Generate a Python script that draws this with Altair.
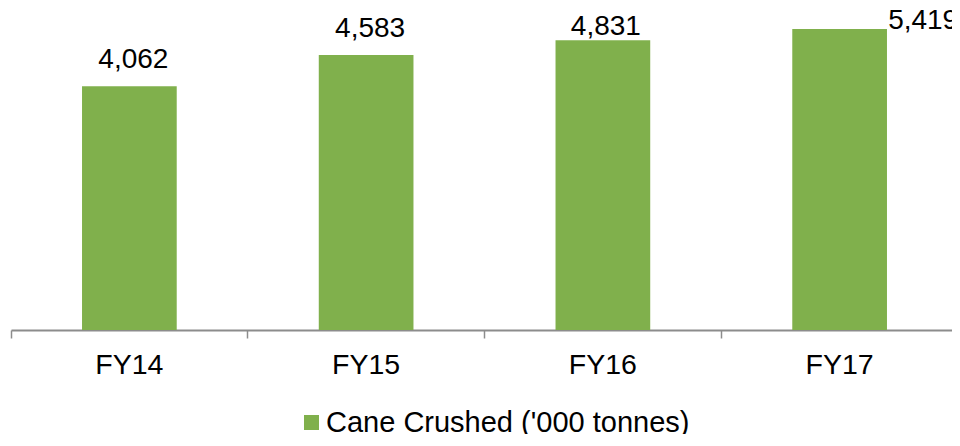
import altair as alt
import pandas as pd

years = ["FY14", "FY15", "FY16", "FY17"]
cane_crushed = [4062, 4583, 4831, 5419]
series_name = "Cane Crushed ('000 tonnes)"

df = pd.DataFrame({"year": years, "value": cane_crushed, "series": [series_name] * len(years)})

FONT = "Liberation Sans"
GREEN = "#80b04c"
PLOT_W = 947

x_enc = alt.X(
    "year:N",
    sort=years,
    scale=alt.Scale(paddingInner=0, paddingOuter=0),
    axis=alt.Axis(
        title=None,
        labelAngle=0,
        bandPosition=1,
        tickExtra=True,
        labelPadding=12,
        labelFontSize=28.5,
        labelFont=FONT,
        labelColor="#000000",
        domainColor="#8c8c8c",
        domainWidth=2,
        tickColor="#8c8c8c",
        tickWidth=1.5,
        tickSize=8,
        grid=False,
    ),
)
y_enc = alt.Y(
    "value:Q",
    scale=alt.Scale(domain=[0, 5017], clamp=True, nice=False),
    axis=None,
)

base = alt.Chart(df)

bars = base.mark_bar(width=alt.RelativeBandSize(0.4)).encode(
    x=x_enc,
    y=y_enc,
    color=alt.Color(
        "series:N",
        scale=alt.Scale(range=[GREEN]),
        legend=alt.Legend(
            title=None,
            orient="none",
            legendX=286,
            legendY=379,
            symbolType="square",
            symbolSize=225,
            symbolStrokeWidth=0,
            labelFontSize=29,
            labelFont=FONT,
            labelColor="#000000",
            labelOffset=0,
            padding=0,
            labelLimit=600,
        ),
    ),
)

text_common = dict(font=FONT, fontSize=28, color="#000000", baseline="alphabetic")

labels_a = base.transform_filter(
    alt.FieldOneOfPredicate(field="year", oneOf=["FY14", "FY15"])
).mark_text(align="center", dx=4, dy=-18.5, **text_common).encode(
    x=alt.X("year:N", sort=years), y="value:Q", text=alt.Text("value:Q", format=",")
)
labels_b = base.transform_filter(
    alt.FieldEqualPredicate(field="year", equal="FY16")
).mark_text(align="center", dx=3, dy=-5, **text_common).encode(
    x=alt.X("year:N", sort=years), y="value:Q", text=alt.Text("value:Q", format=",")
)
labels_c = base.transform_filter(
    alt.FieldEqualPredicate(field="year", equal="FY17")
).mark_text(align="left", dx=48.5, dy=0, **text_common).encode(
    x=alt.X("year:N", sort=years), y="value:Q", text=alt.Text("value:Q", format=",")
)

chart = (
    alt.layer(bars, labels_a, labels_b, labels_c)
    .properties(
        width=PLOT_W,
        height=301,
        background="#ffffff",
        autosize=alt.AutoSizeParams(type="none"),
        padding={"left": 3, "top": 21, "right": -6, "bottom": 104},
    )
    .configure_view(strokeWidth=0, stroke="transparent")
)

chart.save("out.html", embed_options={"renderer": "svg", "actions": False})
